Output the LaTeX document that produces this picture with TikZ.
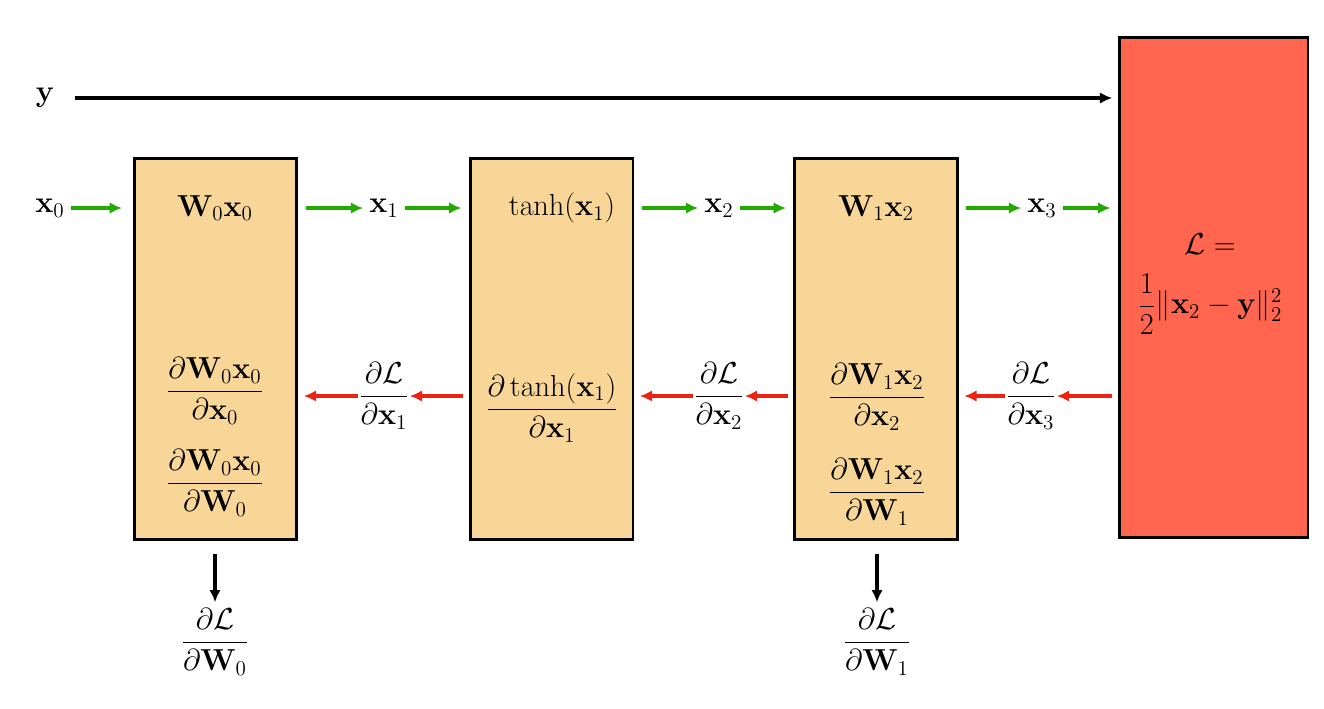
\documentclass[tikz,border=0pt]{standalone}
\usepackage{amsmath, amssymb}
\usepackage{tikz}
\usetikzlibrary{arrows.meta}
\definecolor{boxfill}{HTML}{F7D698}
\definecolor{lossfill}{HTML}{FF654F}
\definecolor{fwdcol}{HTML}{22AA00}
\definecolor{bwdcol}{HTML}{EE2211}
\def\bx{\mathbf{x}}
\def\bW{\mathbf{W}}
\def\pd#1#2{\dfrac{\partial #1}{\partial #2}}

\begin{document}
\begin{tikzpicture}[x=0.02cm, y=-0.02cm, font=\fontsize{17}{21}\selectfont,
  layer/.style={draw, line width=1.7pt, fill=boxfill, minimum width=3.26cm, minimum height=7.64cm},
  lossbox/.style={draw, line width=1.7pt, fill=lossfill, minimum width=3.78cm, minimum height=10.02cm},
  fwd/.style={draw=fwdcol, line width=1.8pt, -{Latex[length=7pt,width=6.5pt]}},
  bwd/.style={draw=bwdcol, line width=1.8pt, -{Latex[length=7pt,width=6.5pt]}},
  blk/.style={draw=black, line width=1.8pt, -{Latex[length=7pt,width=6.5pt]}},
  grad/.style={inner sep=0pt}]
\useasboundingbox (0,0) rectangle (1324,708);

\node[layer] (lin0) at (215.5,349) {};
\node[layer] (act) at (551.5,349) {};
\node[layer] (lin1) at (876,349) {};
\node[lossbox] (loss) at (1213.5,287.5) {};

\node (y) at (45,98) {$\mathbf{y}$};
\node (x0) at (50,208) {$\bx_0$};
\node (x1) at (384,208) {$\bx_1$};
\node (x2) at (719,208) {$\bx_2$};
\node (x3) at (1042,208) {$\bx_3$};

\node (f0) at (215,208) {$\bW_0\bx_0$};
\node (f1) at (562,208) {$\tanh(\bx_1)$};
\node (f2) at (876,208) {$\bW_1\bx_2$};
\node[align=center] (lexpr) at (1210,284) {$\mathcal{L}=$\\[10pt]$\dfrac{1}{2}\|\bx_2-\mathbf{y}\|_2^2$};

\node (d00) at (215,391) {$\pd{\bW_0\bx_0}{\bx_0}$};
\node (d01) at (215,483) {$\pd{\bW_0\bx_0}{\bW_0}$};
\node (da) at (552,408) {$\pd{\tanh(\bx_1)}{\bx_1}$};
\node (d10) at (877,397) {$\pd{\bW_1\bx_2}{\bx_2}$};
\node (d11) at (877,492) {$\pd{\bW_1\bx_2}{\bW_1}$};

\node[grad] (g1) at (384,396) {$\pd{\mathcal{L}}{\bx_1}$};
\node[grad] (g2) at (719,396) {$\pd{\mathcal{L}}{\bx_2}$};
\node[grad] (g3) at (1031,396) {$\pd{\mathcal{L}}{\bx_3}$};

\node (dw0) at (215,642) {$\pd{\mathcal{L}}{\bW_0}$};
\node (dw1) at (877,642) {$\pd{\mathcal{L}}{\bW_1}$};

\draw[blk, shorten <=8pt, shorten >=3pt] (y) -- (y -| loss.west);

\draw[fwd, shorten >=6pt] (x0) -- (x0 -| lin0.west);
\foreach \a/\b/\c in {lin0/x1/act, act/x2/lin1, lin1/x3/loss}{
  \draw[fwd, shorten <=4pt] (\a.east |- \b) -- (\b);
  \draw[fwd, shorten >=4pt] (\b) -- (\b -| \c.west);
}

\foreach \a/\b/\c in {loss/g3/lin1, lin1/g2/act, act/g1/lin0}{
  \draw[bwd, shorten <=3pt] (\a.west |- \b) -- (\b.east);
  \draw[bwd, shorten >=3pt] (\b.west) -- (\b -| \c.east);
}

\draw[blk, shorten <=7pt] (dw0 |- lin0.south) -- (dw0);
\draw[blk, shorten <=7pt] (dw1 |- lin1.south) -- (dw1);
\end{tikzpicture}
\end{document}
